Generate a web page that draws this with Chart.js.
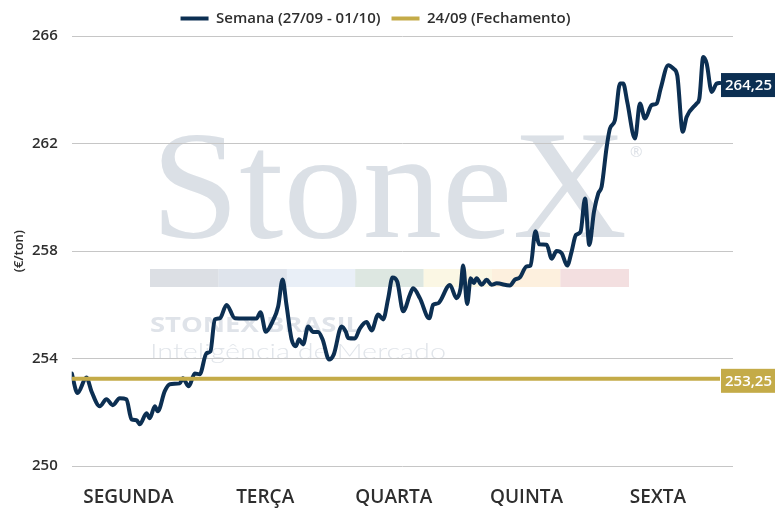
<!DOCTYPE html>
<html><head><meta charset="utf-8">
<script src="https://cdn.jsdelivr.net/npm/chart.js@4.4.0/dist/chart.umd.min.js"></script>
<style>html,body{margin:0;padding:0;background:#fff;}#wrap{width:775px;height:519px;position:relative;}</style>
</head><body><div id="wrap"><canvas id="c"></canvas></div>
<script>
// ---- data ----
const dayLabels = ['SEGUNDA', 'TERÇA', 'QUARTA', 'QUINTA', 'SEXTA'];
const dayTicks = [0.49, 1.51, 2.47, 3.46, 4.44];
const yTicks = [250, 254, 258, 262, 266];
const yTitle = '(€/ton)';
const weekLabel = 'Semana (27/09 - 01/10)';
const closeLabel = '24/09 (Fechamento)';
const closeValue = 253.25;
// time in trading days (fraction of week)
const times = [
  0.067, 0.110, 0.177, 0.214, 0.276, 0.326, 0.373, 0.425, 0.475, 0.513,
  0.550, 0.575, 0.625, 0.649, 0.687, 0.709, 0.761, 0.799, 0.873, 0.896,
  0.940, 0.985, 1.022, 1.072, 1.102, 1.134, 1.172, 1.222, 1.284, 1.358,
  1.446, 1.475, 1.515, 1.565, 1.607, 1.640, 1.669, 1.707, 1.739, 1.763,
  1.793, 1.831, 1.868, 1.905, 1.938, 1.987, 2.022, 2.080, 2.112, 2.129,
  2.179, 2.216, 2.266, 2.304, 2.353, 2.390, 2.428, 2.460, 2.495, 2.540,
  2.590, 2.614, 2.664, 2.734, 2.763, 2.801, 2.888, 2.938, 2.968, 2.987,
  3.017, 3.043, 3.067, 3.087, 3.125, 3.162, 3.199, 3.237, 3.336, 3.373,
  3.410, 3.460, 3.490, 3.526, 3.554, 3.610, 3.647, 3.684, 3.722, 3.763,
  3.796, 3.828, 3.863, 3.896, 3.928, 3.963, 3.995, 4.020, 4.057, 4.082,
  4.119, 4.157, 4.181, 4.211, 4.269, 4.306, 4.343, 4.393, 4.431, 4.460,
  4.517, 4.555, 4.584, 4.625, 4.654, 4.729, 4.749, 4.778, 4.804, 4.841,
  4.878, 4.903
];
const prices = [
  253.45, 252.72, 253.30, 252.79, 252.23, 252.49, 252.27, 252.53, 252.49, 251.74,
  251.71, 251.56, 251.97, 251.78, 252.23, 252.04, 252.79, 253.05, 253.08, 253.27,
  252.97, 253.45, 253.42, 254.20, 254.27, 255.46, 255.50, 256.00, 255.50, 255.49,
  255.49, 255.73, 255.00, 255.38, 255.94, 256.94, 256.00, 254.72, 254.46, 254.72,
  254.53, 255.20, 254.99, 254.99, 254.72, 253.97, 254.16, 255.20, 255.00, 254.77,
  254.75, 255.12, 255.36, 255.05, 255.64, 255.46, 256.25, 257.02, 256.87, 255.76,
  256.38, 256.62, 256.25, 255.50, 256.00, 256.06, 256.74, 256.25, 256.62, 257.46,
  256.03, 256.99, 256.81, 256.99, 256.75, 256.93, 256.75, 256.80, 256.72, 256.94,
  257.02, 257.43, 257.46, 258.74, 258.25, 258.24, 257.72, 258.00, 257.92, 257.46,
  257.98, 258.60, 258.72, 259.96, 258.23, 259.47, 260.15, 260.40, 261.85, 262.56,
  262.87, 264.23, 264.23, 263.55, 262.19, 263.49, 262.93, 263.43, 263.49, 264.04,
  264.91, 264.79, 264.54, 262.44, 262.99, 263.49, 263.67, 265.22, 264.97, 263.92,
  264.23, 264.25
];
// ---- styling ----
const NAVY = '#0c2f52';
const GOLD = '#c4ab48';
const TXT = '#2e2e2e';

const weekData = times.map((t, i) => ({ x: t, y: prices[i] }));
const closeData = [{ x: times[0], y: closeValue }, { x: times[times.length - 1], y: closeValue }];

const fmt = v => v.toFixed(2).replace('.', ',');

const watermark = {
  id: 'watermark',
  beforeDraw(chart) {
    const ctx = chart.ctx;
    ctx.save();
    ctx.font = '154px "Liberation Serif", "DejaVu Serif", serif';
    ctx.fillStyle = '#dbe0e6';
    ctx.textBaseline = 'alphabetic';
    let w = ctx.measureText('StoneX').width;
    ctx.save();
    ctx.translate(151, 237);
    ctx.scale(476 / w, 1);
    ctx.fillText('StoneX', 0, 0);
    ctx.restore();
    ctx.font = '15px "Open Sans", sans-serif';
    ctx.fillStyle = '#dde1e7';
    ctx.fillText('®', 630, 157);
    const cols = ['#dcdfe4', '#dfe4ec', '#e9eff7', '#dde7e1', '#fbf7e4', '#fdf0de', '#f3dfe0'];
    cols.forEach((c, i) => { ctx.fillStyle = c; ctx.fillRect(150 + i * 68.4, 269, 68.6, 18); });
    ctx.font = 'bold 21px "Open Sans", sans-serif';
    ctx.fillStyle = '#dfe3e9';
    w = ctx.measureText('STONEX BRASIL').width;
    ctx.save(); ctx.translate(150, 332); ctx.scale(211 / w, 1); ctx.fillText('STONEX BRASIL', 0, 0); ctx.restore();
    ctx.font = '300 22px Lato, sans-serif';
    ctx.fillStyle = '#e1e5ea';
    w = ctx.measureText('Inteligência de Mercado').width;
    ctx.save(); ctx.translate(150, 359); ctx.scale(296 / w, 1); ctx.fillText('Inteligência de Mercado', 0, 0); ctx.restore();
    // y-axis title
    const ca = chart.chartArea;
    ctx.save();
    ctx.translate(19, (ca.top + ca.bottom) / 2);
    ctx.rotate(-Math.PI / 2);
    ctx.font = '600 13px "Open Sans", sans-serif';
    ctx.fillStyle = TXT;
    ctx.textAlign = 'center';
    ctx.textBaseline = 'middle';
    ctx.fillText(yTitle, 0, 0);
    ctx.restore();
    ctx.restore();
  }
};

const valueTags = {
  id: 'valueTags',
  afterDatasetsDraw(chart) {
    const ctx = chart.ctx;
    ctx.save();
    ctx.font = '600 15px "Open Sans", sans-serif';
    ctx.textAlign = 'center';
    ctx.textBaseline = 'middle';
    chart.data.datasets.forEach((ds, di) => {
      const meta = chart.getDatasetMeta(di);
      const pt = meta.data[meta.data.length - 1];
      const val = ds.data[ds.data.length - 1].y;
      const txt = fmt(val);
      const tw = ctx.measureText(txt).width + 8;
      const x0 = pt.x + 1, y0 = pt.y + 2;
      ctx.fillStyle = ds.borderColor;
      ctx.fillRect(x0, y0 - 12, tw, 24);
      ctx.fillStyle = '#ffffff';
      ctx.fillText(txt, x0 + tw / 2, y0 + 1);
    });
    ctx.restore();
  }
};

new Chart(document.getElementById('c'), {
  type: 'line',
  data: {
    datasets: [
      { label: weekLabel, data: weekData, borderColor: NAVY, backgroundColor: NAVY, borderWidth: 4,
        pointRadius: 0, cubicInterpolationMode: 'monotone', pointStyle: 'line', order: 2, borderCapStyle: 'round', borderJoinStyle: 'round' },
      { label: closeLabel, data: closeData, borderColor: GOLD, backgroundColor: GOLD, borderWidth: 4,
        pointRadius: 0, pointStyle: 'line', order: 1 }
    ]
  },
  options: {
    responsive: true,
    maintainAspectRatio: false,
    animation: false,
    layout: { padding: { left: 18, right: 42, top: 0, bottom: 0 } },
    plugins: {
      legend: {
        position: 'top',
        labels: { usePointStyle: true, pointStyleWidth: 28, color: TXT, padding: 11,
          sort: (a, b) => a.datasetIndex - b.datasetIndex,
          font: { family: '"Open Sans", sans-serif', size: 15, weight: '600' } }
      },
      tooltip: { enabled: false }
    },
    scales: {
      x: {
        type: 'linear', min: 0.067, max: 5,
        grid: { display: false, drawTicks: false }, border: { display: false },
        afterBuildTicks: axis => { axis.ticks = dayTicks.map(v => ({ value: v })); },
        afterFit: scale => { scale.paddingLeft = 0; scale.paddingRight = 0; scale.height = scale.height - 10; },
        ticks: { autoSkip: false, maxRotation: 0, padding: 20, color: TXT,
          font: { family: '"Open Sans", sans-serif', size: 19, weight: '600' },
          callback: v => dayLabels[dayTicks.indexOf(v)] }
      },
      y: {
        min: 250, max: 266,
        afterBuildTicks: axis => { axis.ticks = yTicks.map(v => ({ value: v })); },
        grid: { color: '#c6c6c6', drawTicks: false, lineWidth: 1 }, border: { display: false },
        ticks: { padding: 14, color: TXT, font: { family: '"Open Sans", sans-serif', size: 15, weight: '600' },
          callback: v => String(v) }
      }
    }
  },
  plugins: [watermark, valueTags]
});
</script></body></html>
